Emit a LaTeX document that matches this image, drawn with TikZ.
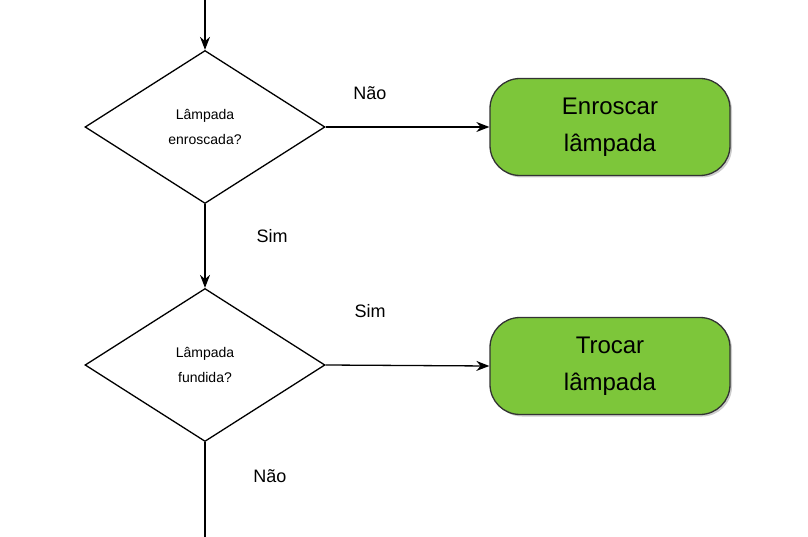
\documentclass[tikz,border=0pt]{standalone}
\usepackage{fontspec}
\setmainfont{Liberation Sans}
\usetikzlibrary{shapes.geometric,arrows.meta,shadows}
\definecolor{grn}{HTML}{7DC63A}
\tikzset{
  dec/.style={draw,line width=1.3pt,diamond,aspect=1.57,minimum width=240pt,minimum height=153pt,inner sep=0pt,align=center,font=\fontsize{14}{25}\selectfont},
  act/.style={draw=black!80,line width=1.3pt,fill=grn,rounded corners=30pt,minimum width=240pt,minimum height=97pt,align=center,font=\fontsize{24}{37}\selectfont,drop shadow={shadow xshift=2pt,shadow yshift=-2pt,opacity=0.4}},
  arr/.style={line width=1.3pt,-{Stealth[length=13pt,width=10pt]}},
  lbl/.style={font=\fontsize{18}{22}\selectfont}
}
\begin{document}
\begin{tikzpicture}[x=1pt,y=-1pt]
\useasboundingbox (0,0) rectangle (808,537);
\coordinate (top) at (205,0);
\coordinate (bot) at (205,537);
\node[dec] (d1) at (205,127) {Lâmpada\\enroscada?};
\node[dec] (d2) at (205,365) {Lâmpada\\fundida?};
\node[act] (a1) at (610,127) {Enroscar\\lâmpada};
\node[act] (a2) at (610,366) {Trocar\\lâmpada};
\draw[arr] (top) -- (d1.north);
\draw[arr] (d1.south) -- (d2.north);
\draw[line width=1.3pt] (d2.south) -- (bot);
\draw[arr] (d1.east) -- (a1.west);
\draw[arr] (d2.east) -- (a2.west);
\node[lbl] (l1) at (370,93) {Não};
\node[lbl] (l2) at (272,236) {Sim};
\node[lbl] (l3) at (370,311) {Sim};
\node[lbl] (l4) at (270,476) {Não};
\end{tikzpicture}
\end{document}
